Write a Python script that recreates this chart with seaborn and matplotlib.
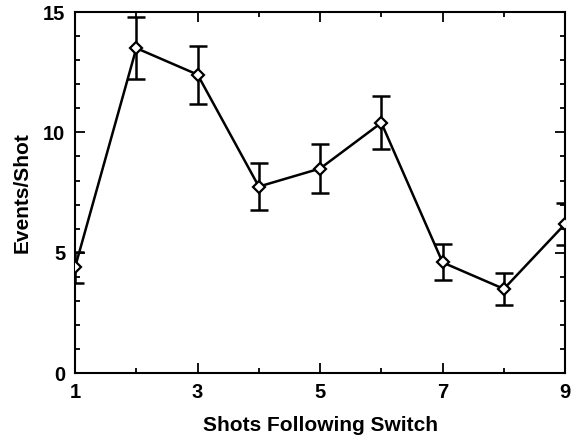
import pandas as pd
import matplotlib
matplotlib.use('Agg')
import matplotlib.pyplot as plt
import seaborn as sns
from matplotlib.ticker import MultipleLocator

# values
shots = [1, 2, 3, 4, 5, 6, 7, 8, 9]
events = [4.4, 13.5, 12.4, 7.75, 8.5, 10.4, 4.6, 3.5, 6.2]
err = [0.65, 1.3, 1.2, 0.97, 1.02, 1.1, 0.75, 0.65, 0.87]

df = pd.DataFrame({'shot': shots, 'events': events, 'err': err})

sns.set_theme(style='ticks')
plt.rcParams['font.family'] = ['Liberation Sans', 'DejaVu Sans']
plt.rcParams['font.weight'] = 'bold'
plt.rcParams['text.color'] = 'black'
plt.rcParams['axes.labelcolor'] = 'black'
plt.rcParams['xtick.color'] = 'black'
plt.rcParams['ytick.color'] = 'black'

fig = plt.figure(figsize=(5.82, 4.37), dpi=100)
ax = fig.add_axes([0.129, 0.146, 0.842, 0.8265])

ax.errorbar(df['shot'], df['events'], yerr=df['err'], fmt='none',
            ecolor='black', elinewidth=1.8, capsize=6.5, capthick=1.8, zorder=2)
sns.lineplot(data=df, x='shot', y='events', ax=ax, color='black', linewidth=1.8,
             marker='D', markersize=6, markerfacecolor='white',
             markeredgecolor='black', markeredgewidth=1.6, zorder=3)

ax.set_xlim(1, 9)
ax.set_ylim(0, 15)
ax.xaxis.set_major_locator(MultipleLocator(2, offset=1))
ax.xaxis.set_minor_locator(MultipleLocator(1))
ax.yaxis.set_major_locator(MultipleLocator(5))
ax.yaxis.set_minor_locator(MultipleLocator(1))
ax.tick_params(which='both', direction='in', top=True, right=True,
               color='black', labelcolor='black', width=1.3, labelsize=14.5)
ax.tick_params(which='major', length=7, pad=7)
ax.tick_params(which='minor', length=3.5)
for s in ax.spines.values():
    s.set_linewidth(1.5)
    s.set_color('black')

ax.set_xlabel('Shots Following Switch', fontsize=15, fontweight='bold', labelpad=10)
ax.set_ylabel('Events/Shot', fontsize=15, fontweight='bold', labelpad=8)

fig.savefig('out.png', dpi=100)
